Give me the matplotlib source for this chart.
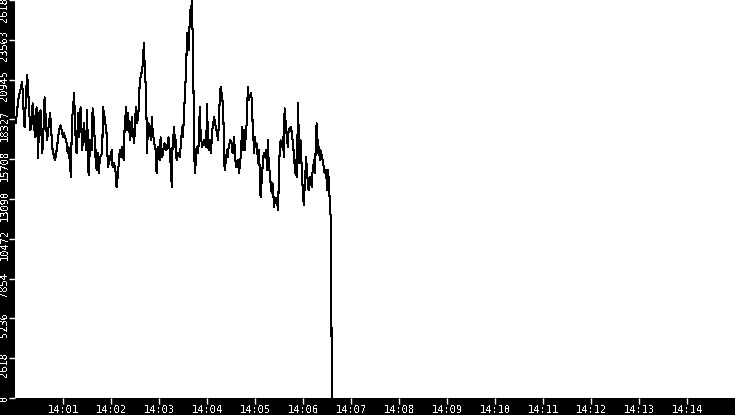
import matplotlib
matplotlib.use("Agg")
import matplotlib.pyplot as plt
import matplotlib.transforms as mtransforms

# seconds after 14:00:00 and the measured value at that moment
seconds = [1, 4, 6, 9, 10, 12, 15, 16, 19, 21, 22, 25, 27, 29, 30, 32, 34, 35, 37, 40,
           41, 44, 46, 47, 50, 52, 55, 57, 60, 61, 64, 66, 67, 70, 71, 74, 75, 77, 79, 80,
           82, 84, 86, 89, 90, 92, 94, 96, 97, 99, 100, 101, 102, 104, 105, 106, 109, 110, 112, 114,
           115, 116, 119, 121, 122, 124, 126, 127, 129, 131, 132, 134, 136, 137, 139, 140, 141, 144, 146, 147,
           149, 151, 152, 154, 155, 156, 159, 160, 161, 162, 164, 165, 166, 167, 170, 171, 172, 174, 176, 177,
           179, 181, 182, 184, 186, 187, 189, 191, 192, 194, 195, 196, 197, 199, 200, 201, 202, 204, 206, 207,
           209, 210, 211, 212, 214, 215, 216, 217, 219, 220, 221, 222, 223, 224, 225, 226, 227, 229, 230, 231,
           232, 234, 235, 236, 239, 240, 241, 242, 244, 245, 246, 247, 249, 251, 252, 254, 255, 256, 257, 259,
           260, 261, 262, 264, 265, 266, 267, 269, 271, 272, 274, 275, 276, 277, 279, 280, 282, 284, 285, 286,
           287, 289, 290, 291, 292, 295, 296, 297, 299, 300, 301, 302, 304, 305, 307, 309, 310, 311, 312, 314,
           315, 316, 317, 320, 321, 322, 324, 325, 326, 327, 329, 330, 332, 334, 335, 336, 337, 339, 340, 341,
           342, 345, 346, 347, 349, 350, 351, 352, 354, 355, 357, 359, 360, 361, 362, 364, 365, 366, 367, 369,
           371, 372, 374, 375, 376, 377, 379, 380, 381, 382, 384, 386, 387, 389, 390, 391, 392, 394, 395, 396]
values = [18070, 19587, 20115, 20774, 19587, 17807, 21236, 20708, 17609, 18070, 19389, 17147, 19126, 15762, 18730, 18928, 16092, 16751, 19785, 16949,
          17411, 18730, 16949, 16290, 15630, 16290, 17609, 17938, 17147, 17411, 16949, 16092, 16488, 14509, 18070, 20049, 17807, 16092, 18730, 17147,
          19126, 16290, 18070, 16290, 18928, 14641, 16949, 16290, 19060, 18070, 15828, 16290, 14971, 16092, 14773, 15828, 16092, 19126, 18466, 17609,
          17147, 15169, 15828, 16290, 15169, 15432, 14773, 13850, 14971, 16290, 15828, 16488, 15630, 17807, 19126, 17609, 18730, 16949, 18466, 17609,
          16751, 19126, 18070, 18466, 19587, 20906, 21566, 22225, 23346, 22027, 19785, 16092, 17609, 18070, 16949, 18466, 17609, 16751, 16290, 14773,
          16488, 15630, 17147, 15828, 16488, 16751, 16290, 16751, 17147, 15828, 14971, 13850, 16751, 17807, 16488, 16949, 15630, 16092, 15828, 16488,
          17807, 17147, 18466, 19587, 21764, 24006, 23346, 22885, 25523, 25061, 26181, 24006, 20708, 16092, 14773, 15630, 16488, 16092, 17411, 19126,
          17411, 16488, 16751, 16949, 16488, 19323, 17411, 16290, 16949, 16092, 17147, 17807, 18466, 17807, 17609, 16949, 18730, 19587, 20445, 19785,
          19126, 17411, 14971, 15828, 16290, 15828, 16488, 16949, 16751, 16092, 17147, 15828, 15432, 15169, 15630, 14773, 15828, 17807, 16290, 17609,
          16290, 17609, 18466, 20445, 19587, 20049, 19587, 18070, 16092, 17147, 16488, 16751, 15432, 16290, 13190, 14773, 15630, 16092, 15828, 16290,
          14971, 16949, 15630, 13850, 13454, 14113, 12531, 13190, 12794, 13190, 12333, 15432, 16949, 16488, 17147, 15828, 19060, 17609, 17147, 16488,
          17609, 17807, 17411, 16949, 15828, 14773, 15630, 14509, 19389, 15432, 16949, 14311, 13454, 12662, 13850, 15828, 14773, 14311, 13652, 14509,
          13850, 14971, 15630, 14773, 16751, 18070, 16092, 16488, 15630, 16290, 15828, 15169, 14773, 14971, 13652, 14971, 14509, 12333, 11673, 0]

y_ticks = [0, 2618, 5236, 7854, 10472, 13090, 15708, 18327, 20945, 23563, 26181]
y_max = 26181
x_ticks = [60, 120, 180, 240, 300, 360, 420, 480, 540, 600, 660, 720, 780, 840]
x_labels = ["14:01", "14:02", "14:03", "14:04", "14:05", "14:06", "14:07",
            "14:08", "14:09", "14:10", "14:11", "14:12", "14:13", "14:14"]

plt.rcParams['font.family'] = 'DejaVu Sans Mono'
plt.rcParams['text.antialiased'] = False

fig = plt.figure(figsize=(7.35, 4.15), dpi=100, facecolor="black")
ax = fig.add_axes([15 / 735, 17 / 415, 720 / 735, 398 / 415])
ax.set_facecolor("white")
ax.plot(seconds, values, color="black", lw=0.75, antialiased=False)

ax.set_xlim(0, 900)
ax.set_ylim(0, y_max)
ax.set_xticks(x_ticks)
ax.set_xticklabels(x_labels)
ax.set_yticks(y_ticks)
ax.set_yticklabels([str(v) for v in y_ticks], rotation=90, va="center")

for s in ax.spines.values():
    s.set_visible(False)
ax.tick_params(colors="white", labelsize=7.5, length=4, width=1, pad=1)
ax.tick_params(axis="y", pad=0)

# push y labels a little downward like the original
shift = mtransforms.ScaledTranslation(0, -6 / 100, fig.dpi_scale_trans)
for lab in ax.get_yticklabels()[1:]:
    lab.set_transform(lab.get_transform() + shift)

fig.savefig("out.png", dpi=100, facecolor="black")
